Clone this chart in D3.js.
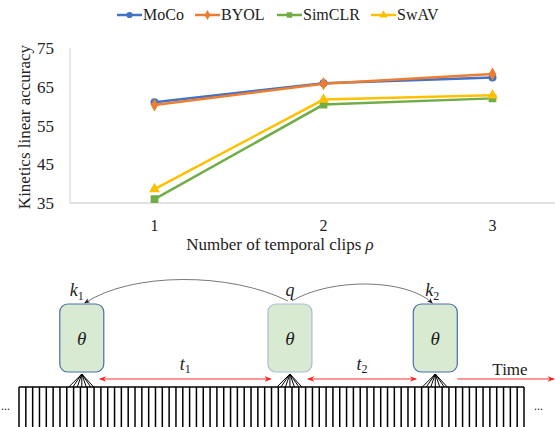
<!DOCTYPE html>
<head>
<meta charset="utf-8">
<script src="https://d3js.org/d3.v7.min.js"></script>
<style>
  body { margin: 0; background: #fff; }
  text { font-family: "Liberation Serif", "Times New Roman", serif; fill: #222; }
</style>
</head>
<body>
<script>
// data
const clips = ["1", "2", "3"];
const seriesNames = ["MoCo", "BYOL", "SimCLR", "SwAV"];
const moco = [61.0, 65.9, 67.4];
const byol = [60.3, 65.8, 68.3];
const simclr = [36.0, 60.4, 62.0];
const swav = [38.6, 61.7, 62.8];
const yTicks = [35, 45, 55, 65, 75];
const colors = ["#4472c4", "#ed7d31", "#70ad47", "#ffc000"];
const symbols = [d3.symbolCircle, d3.symbolDiamond, d3.symbolSquare, d3.symbolTriangle];

// diagram data (frame indices along the time strip)
const nFrames = 75;
const clipFrames = [9.2, 39.7, 61.0];
const clipLabels = ["k", "q", "k"];
const clipSubs = ["1", "", "2"];

const W = 555, H = 427;
const svg = d3.select("body").append("svg").attr("width", W).attr("height", H);

// ---------- chart ----------
const x = d3.scaleBand().domain(clips).range([70, 577]);
const y = d3.scaleLinear().domain([35, 75]).range([203, 48]);

svg.append("line").attr("x1", 70).attr("x2", 70).attr("y1", 48).attr("y2", 203)
  .attr("stroke", "#d9d9d9").attr("stroke-width", 1.2);
svg.append("line").attr("x1", 70).attr("x2", W).attr("y1", 203).attr("y2", 203)
  .attr("stroke", "#d9d9d9").attr("stroke-width", 1.5);

svg.selectAll(".ytick").data(yTicks).enter().append("text")
  .attr("x", 54).attr("y", d => y(d) + 6).attr("text-anchor", "end")
  .style("font-size", "17px").text(d => d);

svg.selectAll(".xtick").data(clips).enter().append("text")
  .attr("x", d => x(d) + x.bandwidth() / 2).attr("y", 231).attr("text-anchor", "middle")
  .style("font-size", "16px").text(d => d);

svg.append("text").attr("transform", "translate(30,127) rotate(-90)")
  .attr("text-anchor", "middle").style("font-size", "17px").text("Kinetics linear accuracy");

const xt = svg.append("text").attr("x", 280).attr("y", 250).attr("text-anchor", "middle")
  .style("font-size", "17px");
xt.append("tspan").text("Number of temporal clips ");
xt.append("tspan").style("font-style", "italic").text("ρ");

const allSeries = [moco, byol, simclr, swav];
const line = d3.line().x((d, i) => x(clips[i]) + x.bandwidth() / 2).y(d => y(d));
allSeries.forEach((vals, s) => {
  svg.append("path").attr("d", line(vals)).attr("fill", "none")
    .attr("stroke", colors[s]).attr("stroke-width", 2.5);
  svg.selectAll(".m" + s).data(vals).enter().append("path")
    .attr("transform", (d, i) => `translate(${x(clips[i]) + x.bandwidth() / 2},${y(d)})`)
    .attr("d", d3.symbol().type(symbols[s]).size(s === 2 ? 60 : 50))
    .attr("fill", colors[s]);
});

// legend
const legX = [117, 195, 277, 371];
seriesNames.forEach((n, s) => {
  const g = svg.append("g").attr("transform", `translate(${legX[s]},15)`);
  g.append("line").attr("x1", 0).attr("x2", 25).attr("stroke", colors[s]).attr("stroke-width", 2.5);
  g.append("path").attr("transform", "translate(12.5,0)")
    .attr("d", d3.symbol().type(symbols[s]).size(30)).attr("fill", colors[s]);
  g.append("text").attr("x", 26).attr("y", 5).style("font-size", "16px").text(n);
});

// ---------- diagram ----------
const fx = d3.scaleLinear().domain([0, nFrames - 1]).range([19, 524]);
const stripTop = 387;

svg.append("line").attr("x1", fx(0)).attr("x2", fx(nFrames - 1))
  .attr("y1", stripTop).attr("y2", stripTop).attr("stroke", "#000").attr("stroke-width", 1.5);
svg.selectAll(".frame").data(d3.range(nFrames)).enter().append("line")
  .attr("x1", d => fx(d)).attr("x2", d => fx(d))
  .attr("y1", stripTop).attr("y2", H).attr("stroke", "#000").attr("stroke-width", 1.5);

svg.append("text").attr("x", 1).attr("y", 410).style("font-size", "12px").text("...");
svg.append("text").attr("x", 534).attr("y", 410).style("font-size", "12px").text("...");

const defs = svg.append("defs");
defs.append("marker").attr("id", "red").attr("viewBox", "0 0 10 10").attr("refX", 9).attr("refY", 5)
  .attr("markerWidth", 7).attr("markerHeight", 7).attr("orient", "auto-start-reverse")
  .append("path").attr("d", "M0,1 L10,5 L0,9 L3,5 Z").attr("fill", "#ff2020");
defs.append("marker").attr("id", "blk").attr("viewBox", "0 0 10 10").attr("refX", 9).attr("refY", 5)
  .attr("markerWidth", 7).attr("markerHeight", 7).attr("orient", "auto")
  .append("path").attr("d", "M0,1 L10,5 L0,9 L3,5 Z").attr("fill", "#111");

const bw = 44, bTop = 304, bBot = 372;
clipFrames.forEach((f, i) => {
  const cx = fx(f);
  // fan lines
  [-13, -9, -4.5, 0, 4.5, 9, 12].forEach(dx => {
    svg.append("line").attr("x1", cx).attr("y1", bBot + 2).attr("x2", cx + dx).attr("y2", stripTop)
      .attr("stroke", "#000").attr("stroke-width", 1);
  });
  svg.append("rect").attr("x", cx - bw / 2).attr("y", bTop).attr("width", bw).attr("height", bBot - bTop)
    .attr("rx", 8).attr("fill", "#d9ead3")
    .attr("stroke", i === 1 ? "#a9bcd6" : "#4a6fa5").attr("stroke-width", 1.2);
  svg.append("text").attr("x", cx).attr("y", (bTop + bBot) / 2 + 7).attr("text-anchor", "middle")
    .style("font-size", "19px").style("font-style", "italic").text("θ");
  const lab = svg.append("text").attr("x", i === 1 ? cx : cx - 5 + (i === 2 ? 2 : 0)).attr("y", 296)
    .attr("text-anchor", "middle").style("font-size", "18px");
  lab.append("tspan").style("font-style", "italic").text(clipLabels[i]);
  if (clipSubs[i]) lab.append("tspan").attr("dy", 4).style("font-size", "12px").text(clipSubs[i]);
});

// curved arrows from q to k1 and k2
const q = fx(clipFrames[1]);
svg.append("path")
  .attr("d", `M${q - 2},301 C${q - 60},272 ${fx(clipFrames[0]) + 50},272 ${fx(clipFrames[0]) + 3},303`)
  .attr("fill", "none").attr("stroke", "#555").attr("stroke-width", 0.8).attr("marker-end", "url(#blk)");
svg.append("path")
  .attr("d", `M${q + 2},301 C${q + 40},278 ${fx(clipFrames[2]) - 30},278 ${fx(clipFrames[2]) - 3},303`)
  .attr("fill", "none").attr("stroke", "#555").attr("stroke-width", 0.8).attr("marker-end", "url(#blk)");

// interval arrows
const arrowY = 379;
const ints = [[clipFrames[0], clipFrames[1], "t", "1"], [clipFrames[1], clipFrames[2], "t", "2"]];
ints.forEach(([a, b, t, s]) => {
  const x1 = fx(a) + bw / 2 - 4, x2 = fx(b) - bw / 2 + 3;
  svg.append("line").attr("x1", x1).attr("x2", x2).attr("y1", arrowY).attr("y2", arrowY)
    .attr("stroke", "#ff3030").attr("stroke-width", 1)
    .attr("marker-start", "url(#red)").attr("marker-end", "url(#red)");
  const tl = svg.append("text").attr("x", (x1 + x2) / 2).attr("y", 370).attr("text-anchor", "middle")
    .style("font-size", "18px");
  tl.append("tspan").style("font-style", "italic").text(t);
  tl.append("tspan").attr("dy", 3).style("font-size", "12px").text(s);
});
svg.append("line").attr("x1", fx(clipFrames[2]) + bw / 2).attr("x2", 554).attr("y1", arrowY).attr("y2", arrowY)
  .attr("stroke", "#ff3030").attr("stroke-width", 1).attr("marker-end", "url(#red)");
svg.append("text").attr("x", 510).attr("y", 375).attr("text-anchor", "middle")
  .style("font-size", "17px").text("Time");
</script>
</body>
</html>
